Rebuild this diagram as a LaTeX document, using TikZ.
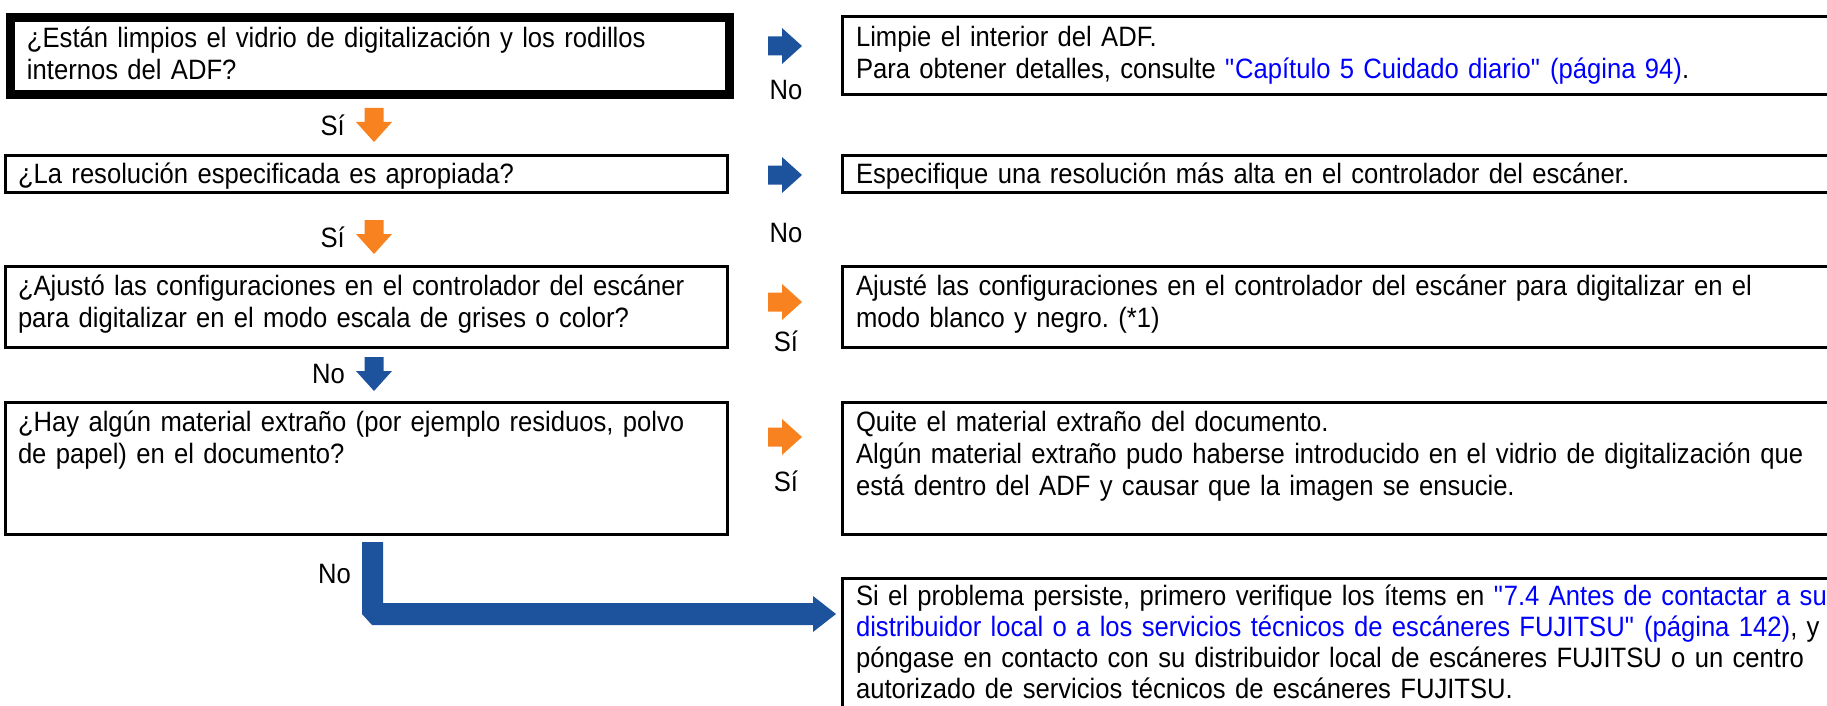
\documentclass[tikz,border=0pt]{standalone}
\usepackage{fontspec}
\setmainfont{Liberation Sans}[FakeStretch=0.915]
\usepackage{tikz}
\usetikzlibrary{calc}

\definecolor{fjblue}{RGB}{29,83,156}
\definecolor{fjorange}{RGB}{247,130,31}
\definecolor{linkblue}{RGB}{0,0,255}

% small block arrow: colour, centre, rotation
\newcommand{\blockarrow}[3]{%
  \fill[#1, shift={#2}, rotate=#3] (-17,-9.5) -- (-3,-9.5) -- (-3,-18) -- (17,0)
    -- (-3,18) -- (-3,9.5) -- (-17,9.5) -- cycle;}
\newcommand{\qq}{\textquotedbl}

\tikzset{
  qbox/.style={draw, line width=3pt, anchor=north west, outer sep=0pt,
    inner xsep=13pt, inner ysep=7pt, text height=21pt, align=left, text width=696pt},
  abox/.style={qbox, inner xsep=14pt, text width=1050pt},
  lbl/.style={inner sep=0pt}
}

\frenchspacing
\begin{document}
\begin{tikzpicture}[x=1pt, y=-1pt, font=\fontsize{28}{32}\selectfont]
\clip (0,0) rectangle (1827,706);

% questions
\node[qbox, line width=9pt, inner xsep=17pt, text width=685pt, text height=23pt, text depth=40pt] (q1) at (10,18)
  {¿Están limpios el vidrio de digitalización y los rodillos\\internos del ADF?};
\node[qbox, text depth=2pt] (q2) at (5,155) {¿La resolución especificada es apropiada?};
\node[qbox, text height=22pt, text depth=45pt] (q3) at (5,266)
  {¿Ajustó las configuraciones en el controlador del escáner\\para digitalizar en el modo escala de grises o color?};
\node[qbox, text height=22pt, text depth=96pt] (q4) at (5,402)
  {¿Hay algún material extraño (por ejemplo residuos, polvo\\de papel) en el documento?};

% answers
\node[abox, text height=23pt, text depth=41pt] (a1) at (842,17)
  {Limpie el interior del ADF.\\Para obtener detalles, consulte {\color{linkblue}\qq Capítulo 5 Cuidado diario\qq{} (página 94)}.};
\node[abox, text depth=2pt] (a2) at (842,155)
  {Especifique una resolución más alta en el controlador del escáner.};
\node[abox, text height=22pt, text depth=45pt] (a3) at (842,266)
  {Ajusté las configuraciones en el controlador del escáner para digitalizar en el\\modo blanco y negro. (*1)};
\node[abox, text height=22pt, text depth=96pt] (a4) at (842,402)
  {Quite el material extraño del documento.\\Algún material extraño pudo haberse introducido en el vidrio de digitalización que\\está dentro del ADF y causar que la imagen se ensucie.};
\node[abox, font=\fontsize{28}{31}\selectfont, text height=20pt, text depth=140pt] (a5) at (842,578)
  {Si el problema persiste, primero verifique los ítems en {\color{linkblue}\qq 7.4 Antes de contactar a su\\distribuidor local o a los servicios técnicos de escáneres FUJITSU\qq{} (página 142)}, y\\póngase en contacto con su distribuidor local de escáneres FUJITSU o un centro\\autorizado de servicios técnicos de escáneres FUJITSU.};

% arrows to the right
\blockarrow{fjblue}{(785,46)}{0}
\blockarrow{fjblue}{(785,175)}{0}
\blockarrow{fjorange}{(785,302)}{0}
\blockarrow{fjorange}{(785,437)}{0}
\node[lbl] (n1) at (786,90) {No};
\node[lbl] (n2) at (786,233) {No};
\node[lbl] (s3) at (786,341) {Sí};
\node[lbl] (s4) at (786,481) {Sí};

% arrows down
\blockarrow{fjorange}{(374,125)}{-90}
\blockarrow{fjorange}{(374,237)}{-90}
\blockarrow{fjblue}{(374,374)}{-90}
\node[lbl, anchor=east] (s1) at (345,125) {Sí};
\node[lbl, anchor=east] (s2) at (345,237) {Sí};
\node[lbl, anchor=east] (n3) at (345,374) {No};

% last one
\fill[fjblue] (362,542) -- (383,542) -- (383,603) -- (813,603) -- (813,596) -- (836,614)
  -- (813,632) -- (813,625) -- (372,625) -- (362,614) -- cycle;
\node[lbl, anchor=east] (n4) at (351,574) {No};
\end{tikzpicture}
\end{document}
